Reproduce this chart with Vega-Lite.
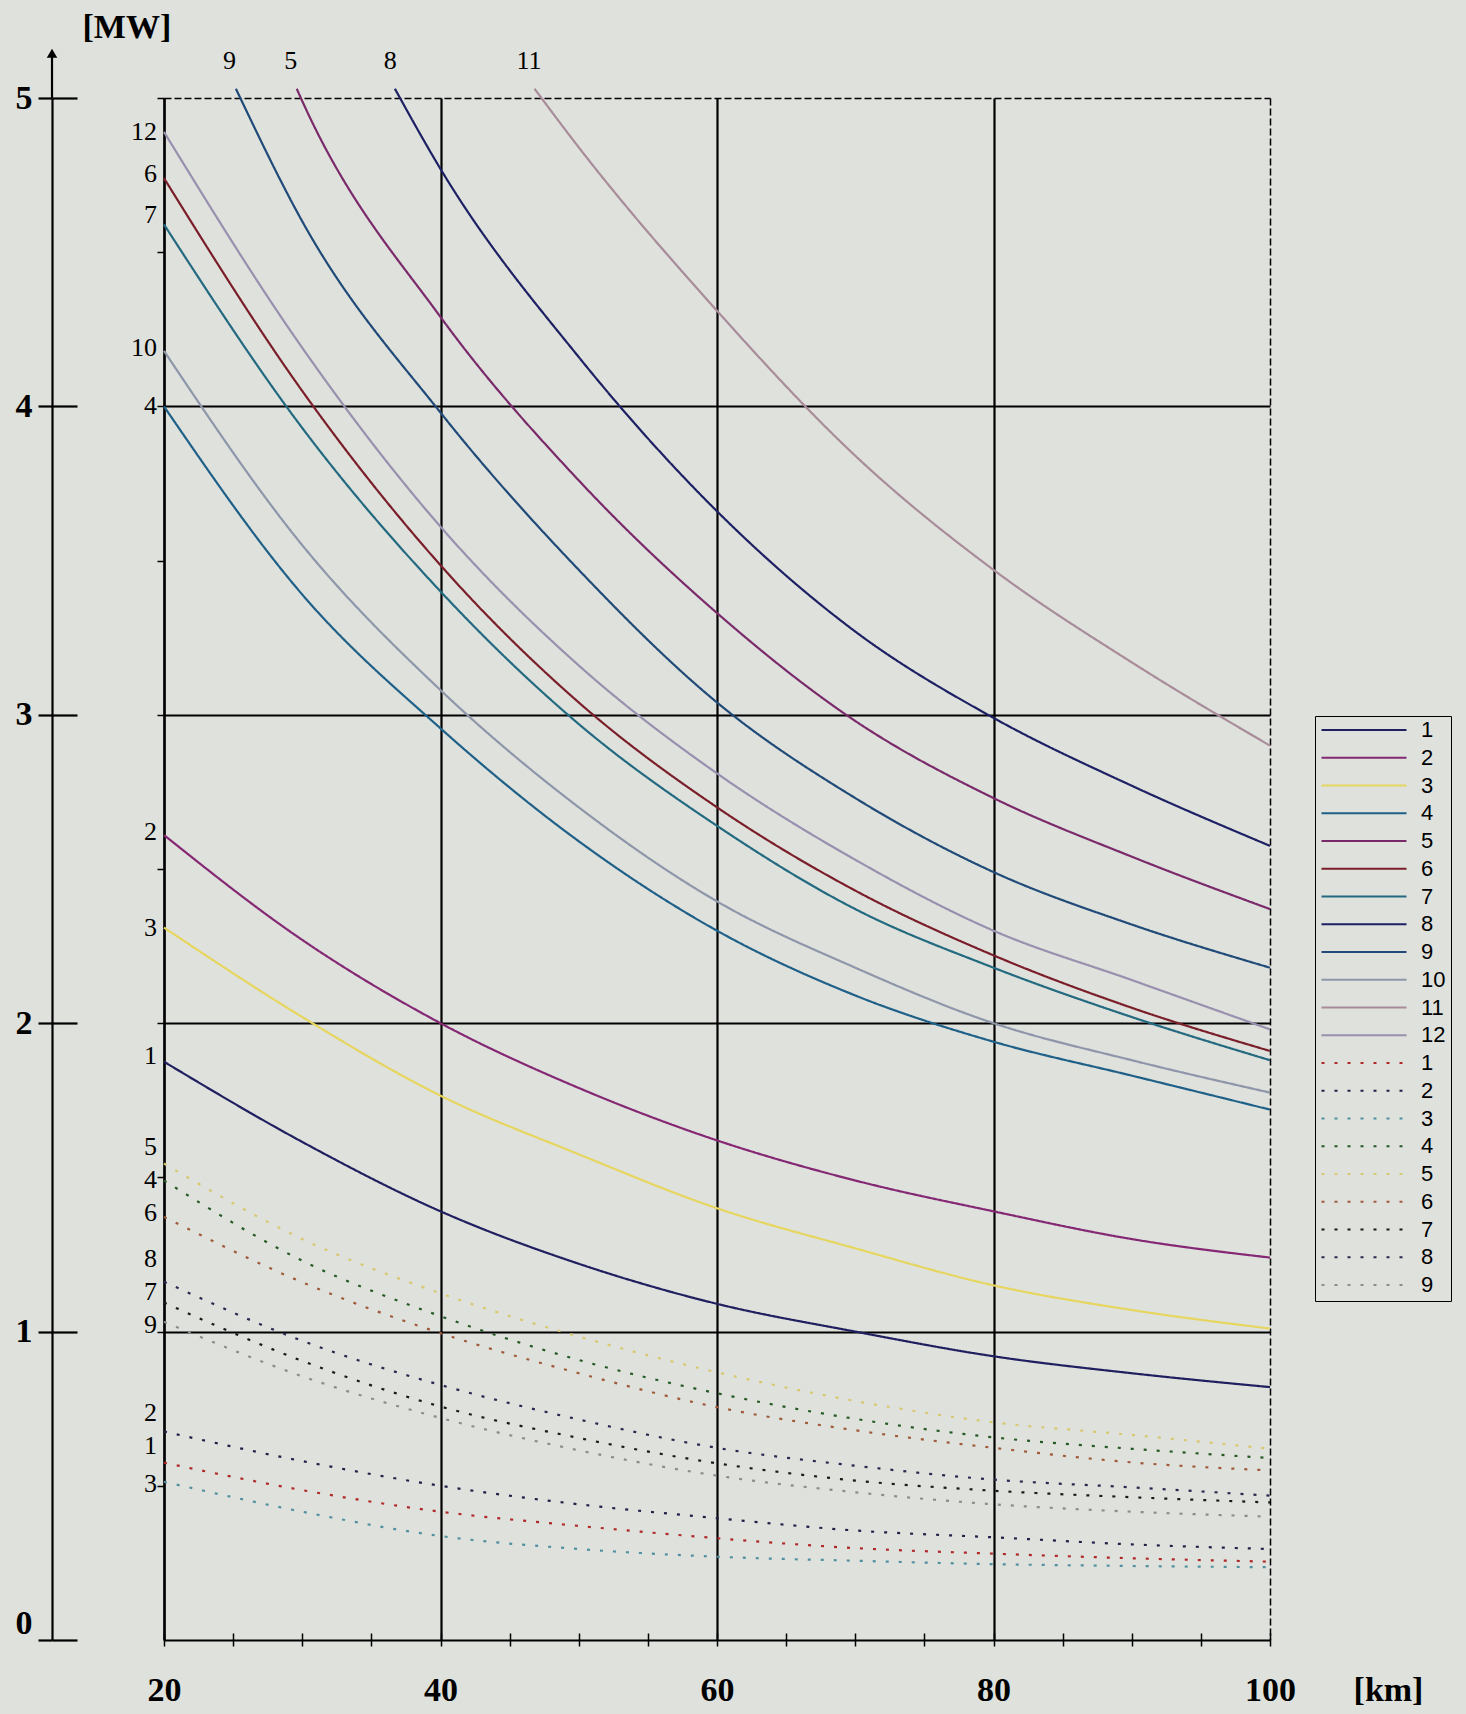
{
  "$schema": "https://vega.github.io/schema/vega-lite/v6.json",
  "width": 1106,
  "height": 1542,
  "autosize": {"type": "none"},
  "padding": {"left": 164, "top": 98, "right": 196, "bottom": 74},
  "background": "#dfe1dc",
  "config": {"view": {"stroke": null}},
  "datasets": {
    "curves": [
      {"s":"s1","km":20,"mw":1.875},{"s":"s1","km":30,"mw":1.615},{"s":"s1","km":40,"mw":1.39},{"s":"s1","km":50,"mw":1.22},{"s":"s1","km":60,"mw":1.09},{"s":"s1","km":70,"mw":1.0},{"s":"s1","km":80,"mw":0.92},{"s":"s1","km":90,"mw":0.865},{"s":"s1","km":100,"mw":0.82},
      {"s":"s2","km":20,"mw":2.61},{"s":"s2","km":30,"mw":2.27},{"s":"s2","km":40,"mw":2.0},{"s":"s2","km":50,"mw":1.79},{"s":"s2","km":60,"mw":1.62},{"s":"s2","km":70,"mw":1.49},{"s":"s2","km":80,"mw":1.39},{"s":"s2","km":90,"mw":1.30},{"s":"s2","km":100,"mw":1.24},
      {"s":"s3","km":20,"mw":2.31},{"s":"s3","km":30,"mw":2.02},{"s":"s3","km":40,"mw":1.765},{"s":"s3","km":50,"mw":1.575},{"s":"s3","km":60,"mw":1.40},{"s":"s3","km":70,"mw":1.27},{"s":"s3","km":80,"mw":1.15},{"s":"s3","km":90,"mw":1.07},{"s":"s3","km":100,"mw":1.01},
      {"s":"s4","km":20,"mw":4.0},{"s":"s4","km":30,"mw":3.39},{"s":"s4","km":40,"mw":2.956},{"s":"s4","km":50,"mw":2.59},{"s":"s4","km":60,"mw":2.30},{"s":"s4","km":70,"mw":2.09},{"s":"s4","km":80,"mw":1.94},{"s":"s4","km":90,"mw":1.83},{"s":"s4","km":100,"mw":1.72},
      {"s":"s5","km":29.6,"mw":5.03},{"s":"s5","km":30,"mw":4.99},{"s":"s5","km":40,"mw":4.29},{"s":"s5","km":50,"mw":3.76},{"s":"s5","km":60,"mw":3.33},{"s":"s5","km":70,"mw":2.98},{"s":"s5","km":80,"mw":2.73},{"s":"s5","km":90,"mw":2.54},{"s":"s5","km":100,"mw":2.37},
      {"s":"s6","km":20,"mw":4.74},{"s":"s6","km":30,"mw":4.05},{"s":"s6","km":40,"mw":3.485},{"s":"s6","km":50,"mw":3.04},{"s":"s6","km":60,"mw":2.70},{"s":"s6","km":70,"mw":2.43},{"s":"s6","km":80,"mw":2.22},{"s":"s6","km":90,"mw":2.05},{"s":"s6","km":100,"mw":1.91},
      {"s":"s7","km":20,"mw":4.59},{"s":"s7","km":30,"mw":3.93},{"s":"s7","km":40,"mw":3.40},{"s":"s7","km":50,"mw":2.97},{"s":"s7","km":60,"mw":2.64},{"s":"s7","km":70,"mw":2.37},{"s":"s7","km":80,"mw":2.18},{"s":"s7","km":90,"mw":2.02},{"s":"s7","km":100,"mw":1.88},
      {"s":"s8","km":36.7,"mw":5.03},{"s":"s8","km":40,"mw":4.77},{"s":"s8","km":50,"mw":4.16},{"s":"s8","km":60,"mw":3.66},{"s":"s8","km":70,"mw":3.27},{"s":"s8","km":80,"mw":2.99},{"s":"s8","km":90,"mw":2.77},{"s":"s8","km":100,"mw":2.575},
      {"s":"s9","km":25.2,"mw":5.03},{"s":"s9","km":30,"mw":4.60},{"s":"s9","km":40,"mw":3.98},{"s":"s9","km":50,"mw":3.47},{"s":"s9","km":60,"mw":3.04},{"s":"s9","km":70,"mw":2.73},{"s":"s9","km":80,"mw":2.49},{"s":"s9","km":90,"mw":2.32},{"s":"s9","km":100,"mw":2.18},
      {"s":"s10","km":20,"mw":4.18},{"s":"s10","km":30,"mw":3.55},{"s":"s10","km":40,"mw":3.08},{"s":"s10","km":50,"mw":2.70},{"s":"s10","km":60,"mw":2.395},{"s":"s10","km":70,"mw":2.18},{"s":"s10","km":80,"mw":2.0},{"s":"s10","km":90,"mw":1.88},{"s":"s10","km":100,"mw":1.775},
      {"s":"s11","km":46.8,"mw":5.03},{"s":"s11","km":50,"mw":4.84},{"s":"s11","km":60,"mw":4.31},{"s":"s11","km":70,"mw":3.84},{"s":"s11","km":80,"mw":3.47},{"s":"s11","km":90,"mw":3.17},{"s":"s11","km":100,"mw":2.90},
      {"s":"s12","km":20,"mw":4.89},{"s":"s12","km":30,"mw":4.19},{"s":"s12","km":40,"mw":3.61},{"s":"s12","km":50,"mw":3.16},{"s":"s12","km":60,"mw":2.81},{"s":"s12","km":70,"mw":2.53},{"s":"s12","km":80,"mw":2.30},{"s":"s12","km":90,"mw":2.14},{"s":"s12","km":100,"mw":1.98},
      {"s":"d1","km":20,"mw":0.575},{"s":"d1","km":30,"mw":0.486},{"s":"d1","km":40,"mw":0.416},{"s":"d1","km":50,"mw":0.37},{"s":"d1","km":60,"mw":0.33},{"s":"d1","km":70,"mw":0.298},{"s":"d1","km":80,"mw":0.28},{"s":"d1","km":90,"mw":0.265},{"s":"d1","km":100,"mw":0.254},
      {"s":"d2","km":20,"mw":0.676},{"s":"d2","km":30,"mw":0.58},{"s":"d2","km":40,"mw":0.50},{"s":"d2","km":50,"mw":0.44},{"s":"d2","km":60,"mw":0.395},{"s":"d2","km":70,"mw":0.355},{"s":"d2","km":80,"mw":0.333},{"s":"d2","km":90,"mw":0.31},{"s":"d2","km":100,"mw":0.295},
      {"s":"d3","km":20,"mw":0.513},{"s":"d3","km":30,"mw":0.416},{"s":"d3","km":40,"mw":0.337},{"s":"d3","km":50,"mw":0.295},{"s":"d3","km":60,"mw":0.27},{"s":"d3","km":70,"mw":0.257},{"s":"d3","km":80,"mw":0.246},{"s":"d3","km":90,"mw":0.24},{"s":"d3","km":100,"mw":0.236},
      {"s":"d4","km":20,"mw":1.49},{"s":"d4","km":30,"mw":1.23},{"s":"d4","km":40,"mw":1.05},{"s":"d4","km":50,"mw":0.908},{"s":"d4","km":60,"mw":0.80},{"s":"d4","km":70,"mw":0.717},{"s":"d4","km":80,"mw":0.657},{"s":"d4","km":90,"mw":0.62},{"s":"d4","km":100,"mw":0.59},
      {"s":"d5","km":20,"mw":1.545},{"s":"d5","km":30,"mw":1.30},{"s":"d5","km":40,"mw":1.124},{"s":"d5","km":50,"mw":0.984},{"s":"d5","km":60,"mw":0.868},{"s":"d5","km":70,"mw":0.775},{"s":"d5","km":80,"mw":0.706},{"s":"d5","km":90,"mw":0.665},{"s":"d5","km":100,"mw":0.62},
      {"s":"d6","km":20,"mw":1.372},{"s":"d6","km":30,"mw":1.16},{"s":"d6","km":40,"mw":0.995},{"s":"d6","km":50,"mw":0.865},{"s":"d6","km":60,"mw":0.755},{"s":"d6","km":70,"mw":0.68},{"s":"d6","km":80,"mw":0.623},{"s":"d6","km":90,"mw":0.576},{"s":"d6","km":100,"mw":0.55},
      {"s":"d7","km":20,"mw":1.094},{"s":"d7","km":30,"mw":0.905},{"s":"d7","km":40,"mw":0.757},{"s":"d7","km":50,"mw":0.655},{"s":"d7","km":60,"mw":0.573},{"s":"d7","km":70,"mw":0.517},{"s":"d7","km":80,"mw":0.484},{"s":"d7","km":90,"mw":0.463},{"s":"d7","km":100,"mw":0.446},
      {"s":"d8","km":20,"mw":1.162},{"s":"d8","km":30,"mw":0.97},{"s":"d8","km":40,"mw":0.827},{"s":"d8","km":50,"mw":0.715},{"s":"d8","km":60,"mw":0.623},{"s":"d8","km":70,"mw":0.565},{"s":"d8","km":80,"mw":0.52},{"s":"d8","km":90,"mw":0.495},{"s":"d8","km":100,"mw":0.468},
      {"s":"d9","km":20,"mw":1.032},{"s":"d9","km":30,"mw":0.855},{"s":"d9","km":40,"mw":0.72},{"s":"d9","km":50,"mw":0.615},{"s":"d9","km":60,"mw":0.533},{"s":"d9","km":70,"mw":0.479},{"s":"d9","km":80,"mw":0.44},{"s":"d9","km":90,"mw":0.416},{"s":"d9","km":100,"mw":0.40}
    ],
    "leftLabels": [
      {"t":"12","km":20,"mw":4.89},{"t":"6","km":20,"mw":4.755},{"t":"7","km":20,"mw":4.62},{"t":"10","km":20,"mw":4.19},{"t":"4","km":20,"mw":4.0},
      {"t":"2","km":20,"mw":2.62},{"t":"3","km":20,"mw":2.31},{"t":"1","km":20,"mw":1.895},
      {"t":"5","km":20,"mw":1.597},{"t":"4","km":20,"mw":1.49},{"t":"6","km":20,"mw":1.384},{"t":"8","km":20,"mw":1.235},{"t":"7","km":20,"mw":1.128},{"t":"9","km":20,"mw":1.022},
      {"t":"2","km":20,"mw":0.735},{"t":"1","km":20,"mw":0.628},{"t":"3","km":20,"mw":0.507}
    ],
    "topLabels": [
      {"t":"9","km":24.74,"mw":5.12},{"t":"5","km":29.17,"mw":5.12},{"t":"8","km":36.36,"mw":5.12},{"t":"11","km":46.4,"mw":5.12}
    ]
  },
  "resolve": {"axis": {"x": "independent", "y": "independent"}},
  "layer": [
    {
      "data": {"name": "curves"},
      "mark": {"type": "point", "opacity": 0},
      "encoding": {
        "x": {"field": "km", "type": "quantitative", "scale": {"domain": [20, 100], "nice": false, "zero": false},
          "axis": {"orient": "bottom", "values": [20,25,30,35,40,45,50,55,60,65,70,75,80,85,90,95,100],
            "grid": true, "gridColor": "black", "gridWidth": {"condition": {"test": "datum.value == 100", "value": 1.5}, "value": 2.2},
            "gridOpacity": {"condition": {"test": "datum.value % 20 != 0", "value": 0}, "value": 1},
            "gridDash": {"condition": {"test": "datum.value == 100", "value": [7, 3]}, "value": [1, 0]},
            "domain": false, "labels": false, "ticks": true, "tickSize": -7, "tickColor": "black", "tickWidth": 1.5, "title": null}},
        "y": {"field": "mw", "type": "quantitative", "scale": {"domain": [0, 5], "nice": false, "zero": false}, "axis": null}
      }
    },
    {
      "data": {"name": "curves"},
      "mark": {"type": "point", "opacity": 0},
      "encoding": {
        "x": {"field": "km", "type": "quantitative", "axis": null},
        "y": {"field": "mw", "type": "quantitative",
          "axis": {"orient": "left", "offset": 0, "values": [0.5,1,1.5,2,2.5,3,3.5,4,4.5,5],
            "grid": true, "gridColor": "black",
            "gridWidth": {"condition": {"test": "datum.value == 5", "value": 1.5}, "value": 2.2},
            "gridOpacity": {"condition": {"test": "datum.value % 1 != 0", "value": 0}, "value": 1},
            "gridDash": {"condition": {"test": "datum.value == 5", "value": [7, 3]}, "value": [1, 0]},
            "domain": true, "domainColor": "black", "domainWidth": 2.2,
            "ticks": true, "tickSize": 7, "tickColor": "black", "tickWidth": 1.5,
            "labels": false, "title": null}}
      }
    },
    {
      "data": {"name": "curves"},
      "mark": {"type": "point", "opacity": 0},
      "encoding": {
        "x": {"field": "km", "type": "quantitative", "axis": null},
        "y": {"field": "mw", "type": "quantitative",
          "axis": {"orient": "left", "offset": 112, "values": [0,1,2,3,4,5],
            "grid": false, "domain": false, "labels": false, "ticks": true, "tickSize": -25,
            "tickColor": "black", "tickWidth": 2.2, "title": null}}
      }
    },
    {
      "data": {"values": [{}]},
      "mark": {"type": "rule", "color": "black", "strokeWidth": 2.2},
      "encoding": {
        "x": {"datum": 11.9, "type": "quantitative", "axis": null},
        "y": {"datum": 5, "type": "quantitative", "axis": null},
        "y2": {"datum": 5.14}
      }
    },
    {
      "data": {"values": [{}]},
      "mark": {"type": "point", "shape": "triangle-up", "filled": true, "color": "black", "size": 110, "opacity": 1},
      "encoding": {
        "x": {"datum": 11.9, "type": "quantitative", "axis": null},
        "y": {"datum": 5.145, "type": "quantitative", "axis": null}
      }
    },
    {
      "data": {"name": "curves"},
      "mark": {"type": "line", "interpolate": "monotone"},
      "encoding": {
        "x": {"field": "km", "type": "quantitative",
          "axis": {"orient": "bottom", "values": [20,25,30,35,40,45,50,55,60,65,70,75,80,85,90,95,100],
            "grid": false, "domain": true, "domainColor": "black", "domainWidth": 2.2,
            "ticks": true, "tickSize": 6, "tickColor": "black", "tickWidth": 1.5,
            "labelExpr": "datum.value % 20 == 0 ? datum.label : ''",
            "labelFont": "Liberation Serif", "labelFontWeight": "bold", "labelFontSize": 34, "labelColor": "black",
            "labelPadding": 44, "labelBaseline": "middle", "labelFlush": false, "labelOverlap": false,
            "title": "[km]", "titleFont": "Liberation Serif", "titleFontWeight": "bold", "titleFontSize": 34, "titleColor": "black",
            "titleX": 1224, "titleY": 50, "titleAlign": "center", "titleBaseline": "middle", "titleAnchor": null}},
        "y": {"field": "mw", "type": "quantitative",
          "axis": {"orient": "left", "offset": 112, "values": [0,1,2,3,4,5],
            "grid": false, "domain": true, "domainColor": "black", "domainWidth": 2.2,
            "ticks": true, "tickSize": 14, "tickColor": "black", "tickWidth": 2.2,
            "labelFont": "Liberation Serif", "labelFontWeight": "bold", "labelFontSize": 34, "labelColor": "black",
            "labelPadding": 6, "labelFlush": false, "labelOverlap": false,
            "labelBaseline": {"condition": {"test": "datum.value == 0", "value": "bottom"}, "value": "middle"},
            "title": "[MW]", "titleFont": "Liberation Serif", "titleFontWeight": "bold", "titleFontSize": 34, "titleColor": "black",
            "titleAngle": 0, "titleX": 30, "titleY": -71, "titleAlign": "left", "titleBaseline": "middle", "titleAnchor": null}},
        "color": {"field": "s", "type": "nominal",
          "scale": {"domain": ["s1","s2","s3","s4","s5","s6","s7","s8","s9","s10","s11","s12","d1","d2","d3","d4","d5","d6","d7","d8","d9"],
            "range": ["#202060","#852874","#e6d660","#1f6088","#7a2a6a","#7a1e2a","#236a80","#1e2064","#204a78","#8e96aa","#a88c9a","#9890ae","#b02828","#202048","#5090a0","#245a24","#d8c870","#a05a3a","#1a1a1a","#2a2850","#8c8c8c"]},
          "legend": {"orient": "none", "legendX": 1151, "legendY": 618, "title": null, "direction": "vertical",
            "symbolType": "stroke", "symbolSize": 7225, "clipHeight": 18, "labelExpr": "slice(datum.label, 1)",
            "labelFont": "Liberation Sans", "labelFontSize": 22, "labelColor": "black", "labelOffset": 13,
            "strokeColor": "black", "padding": 5, "rowPadding": 5.75}},
        "strokeDash": {"field": "s", "type": "nominal",
          "scale": {"domain": ["s1","s2","s3","s4","s5","s6","s7","s8","s9","s10","s11","s12","d1","d2","d3","d4","d5","d6","d7","d8","d9"],
            "range": [[1,0],[1,0],[1,0],[1,0],[1,0],[1,0],[1,0],[1,0],[1,0],[1,0],[1,0],[1,0],[3,10],[3,10],[3,10],[3,10],[3,10],[3,10],[3,10],[3,10],[3,10]]}},
        "strokeWidth": {"field": "s", "type": "nominal",
          "scale": {"domain": ["s1","s2","s3","s4","s5","s6","s7","s8","s9","s10","s11","s12","d1","d2","d3","d4","d5","d6","d7","d8","d9"],
            "range": [2.2,2.2,2.2,2.2,2.2,2.2,2.2,2.2,2.2,1.3,1.3,1.3,2.6,2.6,2.6,2.6,2.6,2.6,2.6,2.6,2.6]}}
      }
    },
    {
      "data": {"name": "leftLabels"},
      "mark": {"type": "text", "align": "right", "baseline": "middle", "dx": -7, "font": "Liberation Serif", "fontSize": 26, "color": "black"},
      "encoding": {
        "x": {"field": "km", "type": "quantitative", "axis": null},
        "y": {"field": "mw", "type": "quantitative", "axis": null},
        "text": {"field": "t"}
      }
    },
    {
      "data": {"name": "topLabels"},
      "mark": {"type": "text", "align": "center", "baseline": "middle", "font": "Liberation Serif", "fontSize": 26, "color": "black"},
      "encoding": {
        "x": {"field": "km", "type": "quantitative", "axis": null},
        "y": {"field": "mw", "type": "quantitative", "axis": null},
        "text": {"field": "t"}
      }
    }
  ]
}
